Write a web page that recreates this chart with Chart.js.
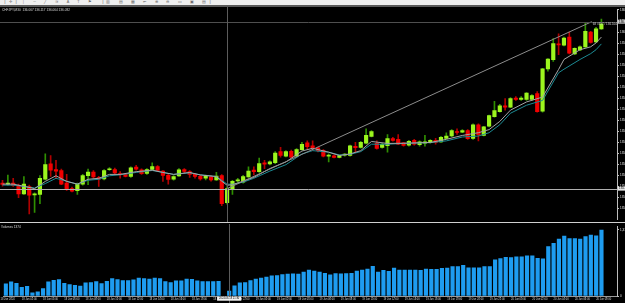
<!DOCTYPE html>
<html>
<head>
<meta charset="utf-8">
<title>CHFJPY,M30</title>
<script src="https://cdn.jsdelivr.net/npm/chart.js@4.4.1/dist/chart.umd.min.js"></script>
<style>
    html, body { margin: 0; padding: 0; background: #000; }
    body { width: 625px; height: 303px; position: relative; overflow: hidden; font-family: "Liberation Sans", sans-serif; }
    #toolbar { position: absolute; left: 0; top: 0; width: 625px; height: 5px; background: #efefef; overflow: hidden; }
    #toolbar-edge { position: absolute; left: 0; top: 5px; width: 625px; height: 2px; background: #5a5a5a; }
    #main-wrap { position: absolute; left: 0; top: 7px; width: 625px; height: 215px; }
    #separator { position: absolute; left: 0; top: 222px; width: 625px; height: 1px; background: #cfcfcf; }
    #vol-wrap { position: absolute; left: 0; top: 224px; width: 625px; height: 79px; }
    .tiny { position: absolute; white-space: nowrap; transform-origin: 0 0; font-size: 6px; line-height: 6px; }
    #icons { left: 2px; top: -0.5px; color: #6a6a6a; transform: scale(0.62); letter-spacing: 6px; }
    #title { left: 2px; top: 8px; color: #d8d8d8; transform: scale(0.52); }
    #vol-title { left: 1px; top: 225px; color: #d8d8d8; transform: scale(0.52); }
</style>
</head>
<body>
<div id="toolbar"><div class="tiny" id="icons">▕✛▏│ ─ ╱ ≋ A T ⚑ ▕▥ ▤ ▦ ⇤ ⊕ ⊖ ▭ ▣ ▤▏</div></div>
<div id="toolbar-edge"></div>
<div id="main-wrap"><canvas id="main-chart" width="625" height="215"></canvas></div>
<div id="separator"></div>
<div id="vol-wrap"><canvas id="vol-chart" width="625" height="79"></canvas></div>
<div class="tiny" id="title">CHFJPY,M30&nbsp; 136.067 136.117 136.064 136.092</div>
<div class="tiny" id="vol-title">Volumes 1374</div>

<script>
// candle data, one entry per bar (bar 0 is the leftmost)
const open = [135.275, 135.270, 135.275, 135.264, 135.220, 135.258, 135.215, 135.217, 135.295, 135.374,
    135.345, 135.340, 135.275, 135.247, 135.237, 135.270, 135.314, 135.332, 135.304, 135.297,
    135.344, 135.345, 135.322, 135.319, 135.309, 135.357, 135.344, 135.325, 135.345, 135.360,
    135.337, 135.315, 135.295, 135.312, 135.345, 135.335, 135.320, 135.310, 135.300, 135.309,
    135.292, 135.314, 135.175, 135.242, 135.287, 135.280, 135.307, 135.342, 135.334, 135.380,
    135.374, 135.380, 135.437, 135.414, 135.439, 135.414, 135.447, 135.482, 135.467, 135.457,
    135.444, 135.414, 135.415, 135.407, 135.419, 135.417, 135.464, 135.459, 135.480, 135.515,
    135.480, 135.459, 135.467, 135.504, 135.500, 135.482, 135.470, 135.495, 135.472, 135.480,
    135.484, 135.495, 135.487, 135.505, 135.517, 135.540, 135.537, 135.545, 135.505, 135.575,
    135.520, 135.567, 135.617, 135.642, 135.672, 135.665, 135.712, 135.705, 135.705, 135.705,
    135.735, 135.645, 135.862, 135.909, 135.990, 135.984, 136.025, 135.939, 135.959, 135.975,
    136.050, 136.000, 136.067];
const high = [135.290, 135.317, 135.300, 135.270, 135.309, 135.265, 135.225, 135.314, 135.425, 135.417,
    135.392, 135.347, 135.320, 135.255, 135.275, 135.320, 135.347, 135.340, 135.310, 135.345,
    135.355, 135.352, 135.334, 135.325, 135.359, 135.367, 135.349, 135.350, 135.380, 135.365,
    135.340, 135.320, 135.314, 135.350, 135.350, 135.340, 135.325, 135.317, 135.317, 135.314,
    135.330, 135.319, 135.257, 135.290, 135.300, 135.315, 135.359, 135.359, 135.404, 135.392,
    135.390, 135.437, 135.459, 135.442, 135.445, 135.452, 135.484, 135.492, 135.492, 135.460,
    135.447, 135.425, 135.420, 135.420, 135.427, 135.470, 135.484, 135.490, 135.554, 135.545,
    135.492, 135.479, 135.525, 135.510, 135.525, 135.485, 135.495, 135.500, 135.492, 135.520,
    135.499, 135.505, 135.515, 135.534, 135.550, 135.554, 135.550, 135.550, 135.580, 135.580,
    135.567, 135.625, 135.695, 135.680, 135.709, 135.715, 135.720, 135.720, 135.740, 135.730,
    135.745, 135.865, 135.915, 136.017, 136.042, 136.025, 136.050, 135.970, 135.980, 136.097,
    136.055, 136.075, 136.117];
const low = [135.260, 135.265, 135.258, 135.200, 135.217, 135.117, 135.125, 135.170, 135.292, 135.309,
    135.300, 135.267, 135.238, 135.230, 135.217, 135.265, 135.267, 135.300, 135.258, 135.292,
    135.340, 135.322, 135.300, 135.307, 135.305, 135.342, 135.320, 135.320, 135.344, 135.335,
    135.284, 135.270, 135.290, 135.309, 135.325, 135.305, 135.300, 135.290, 135.292, 135.285,
    135.289, 135.159, 135.167, 135.217, 135.280, 135.275, 135.304, 135.317, 135.330, 135.350,
    135.369, 135.375, 135.409, 135.410, 135.405, 135.410, 135.444, 135.450, 135.442, 135.435,
    135.410, 135.384, 135.404, 135.404, 135.414, 135.414, 135.434, 135.455, 135.477, 135.512,
    135.450, 135.455, 135.434, 135.490, 135.472, 135.465, 135.465, 135.470, 135.465, 135.465,
    135.480, 135.475, 135.484, 135.502, 135.514, 135.525, 135.534, 135.500, 135.500, 135.492,
    135.517, 135.564, 135.614, 135.639, 135.650, 135.662, 135.700, 135.700, 135.700, 135.700,
    135.639, 135.640, 135.850, 135.900, 135.935, 135.980, 135.939, 135.935, 135.955, 135.972,
    135.994, 135.997, 136.064];
const close = [135.268, 135.275, 135.264, 135.220, 135.270, 135.214, 135.220, 135.300, 135.370, 135.342,
    135.337, 135.270, 135.242, 135.234, 135.270, 135.314, 135.332, 135.307, 135.295, 135.339,
    135.349, 135.327, 135.319, 135.310, 135.354, 135.347, 135.324, 135.345, 135.360, 135.340,
    135.315, 135.294, 135.309, 135.344, 135.335, 135.320, 135.310, 135.297, 135.312, 135.292,
    135.312, 135.170, 135.247, 135.284, 135.292, 135.309, 135.337, 135.334, 135.375, 135.372,
    135.384, 135.430, 135.417, 135.437, 135.409, 135.447, 135.475, 135.462, 135.454, 135.442,
    135.414, 135.417, 135.407, 135.417, 135.424, 135.467, 135.457, 135.484, 135.520, 135.540,
    135.454, 135.474, 135.504, 135.495, 135.475, 135.469, 135.490, 135.475, 135.487, 135.487,
    135.495, 135.484, 135.510, 135.517, 135.545, 135.535, 135.545, 135.504, 135.575, 135.524,
    135.564, 135.622, 135.647, 135.672, 135.665, 135.709, 135.705, 135.712, 135.737, 135.725,
    135.642, 135.862, 135.912, 135.992, 135.985, 136.020, 135.942, 135.967, 135.975, 136.055,
    135.997, 136.067, 136.092];

// lower window, one value per bar (null = no bar drawn)
const volume = [254, 294, 266, 180, 200, 66, 86, 154, 294, 326,
    340, 266, 240, 220, 206, 274, 280, 300, 260, 306,
    360, 340, 320, 320, 334, 374, 360, 354, 374, 360,
    300, 280, 314, 314, 354, 346, 314, 300, 300, 300,
    306, null, 100, 214, 274, 280, 320, 354, 374, 394,
    420, 426, 446, 454, 460, 454, 500, 540, 520, 500,
    474, 440, 466, 460, 466, 474, 520, 540, 560, 620,
    500, 534, 514, 580, 540, 540, 540, 540, 534, 560,
    554, 554, 574, 580, 614, 614, 640, 586, 586, 586,
    614, 614, 754, 780, 806, 800, 814, 814, 834, 834,
    786, 774, 1026, 1094, 1186, 1246, 1194, 1194, 1186, 1234,
    1266, 1254, 1374];

// the two moving averages, read at these bars
const maBars = [0, 2, 4, 6, 8, 10, 12, 14, 16, 18, 20, 22, 25, 28, 30, 32, 35, 37, 40, 41,
    42, 43, 45, 47, 50, 53, 56, 58, 61, 63, 65, 67, 69, 72, 75, 80, 83, 86, 89, 91,
    93, 95, 98, 101, 104, 105, 108, 110, 111, 112];
const maFast = [135.270, 135.270, 135.259, 135.247, 135.284, 135.313, 135.284, 135.270, 135.295, 135.300,
    135.320, 135.320, 135.334, 135.342, 135.330, 135.320, 135.330, 135.317, 135.309, 135.285,
    135.264, 135.267, 135.285, 135.305, 135.350, 135.384, 135.440, 135.454, 135.434, 135.417,
    135.425, 135.442, 135.489, 135.479, 135.480, 135.484, 135.500, 135.520, 135.534, 135.550,
    135.592, 135.650, 135.692, 135.717, 135.859, 135.910, 135.960, 135.975, 135.995, 136.025];
const maSlow = [135.265, 135.265, 135.258, 135.250, 135.273, 135.300, 135.285, 135.270, 135.290, 135.295,
    135.313, 135.318, 135.330, 135.340, 135.330, 135.320, 135.328, 135.318, 135.309, 135.290,
    135.270, 135.269, 135.280, 135.300, 135.337, 135.370, 135.425, 135.442, 135.434, 135.420,
    135.423, 135.437, 135.475, 135.475, 135.479, 135.483, 135.492, 135.512, 135.517, 135.534,
    135.575, 135.634, 135.675, 135.700, 135.842, 135.860, 135.910, 135.940, 135.960, 135.990];

// crosshair measurement: start at the crosshair, end near the bid line
const measureBars = [42, 110.2];
const measurePrices = [135.247, 136.104];
const measureText = '68 / 857 / 136.104';
const crossBar = 42;
const crossPrice = 135.247;
const crossTime = '2024.06.18 21:30';
const bidPrice = 136.104;

// axis ticks
const priceTicks = [136.164, 136.107, 136.051, 135.994, 135.938, 135.881, 135.825, 135.768, 135.712, 135.655,
    135.599, 135.542, 135.486, 135.429, 135.373, 135.316, 135.260, 135.203, 135.147];
const volTicks = [1374, 0];
const timeTickBars = [-1, 3, 7, 11, 15, 19, 23, 27, 31, 35, 39, 43, 47, 51, 55, 59, 63, 67, 71, 75,
    79, 83, 87, 91, 95, 99, 103, 107, 111];
const timeTickLabels = ['18 Jun 2024', '18 Jun 02:00', '18 Jun 04:00', '18 Jun 06:00', '18 Jun 08:00',
    '18 Jun 10:00', '18 Jun 12:00', '18 Jun 14:00', '18 Jun 16:00', '18 Jun 18:00', '18 Jun 20:00',
    '18 Jun 22:00', '19 Jun 00:00', '19 Jun 02:00', '19 Jun 04:00', '19 Jun 06:00', '19 Jun 08:00',
    '19 Jun 10:00', '19 Jun 12:00', '19 Jun 14:00', '19 Jun 16:00', '19 Jun 18:00', '19 Jun 20:00',
    '19 Jun 22:00', '20 Jun 00:00', '20 Jun 02:00', '20 Jun 04:00', '20 Jun 06:00', '20 Jun 08:00'];

const X_MIN = -0.47;
const X_MAX = 114.92;
const AXIS_W = 8;
const SMALL_FONT = { size: 3, family: 'Liberation Sans' };
const TIME_FONT = { size: 2.6, family: 'Liberation Sans' };

const bars = open.map((_, i) => i);
const isUp = bars.map(i => close[i] >= open[i]);

function crisp(v) {
    return Math.round(v) + 0.5;
}

const mainOverlay = {
    id: 'mainOverlay',
    afterDatasetsDraw(chart) {
        const { ctx, chartArea: a, scales: { x, y } } = chart;
        ctx.save();
        ctx.lineWidth = 1;

        // bid line
        const yb = crisp(y.getPixelForValue(bidPrice));
        ctx.strokeStyle = '#4f4f4f';
        ctx.beginPath(); ctx.moveTo(a.left, yb); ctx.lineTo(a.right, yb); ctx.stroke();

        // crosshair
        const yc = crisp(y.getPixelForValue(crossPrice));
        const xc = crisp(x.getPixelForValue(crossBar));
        ctx.strokeStyle = '#b0b0b0';
        ctx.beginPath(); ctx.moveTo(a.left, yc); ctx.lineTo(a.right, yc); ctx.stroke();
        ctx.strokeStyle = '#5c5c5c';
        ctx.beginPath(); ctx.moveTo(xc, 0); ctx.lineTo(xc, chart.height); ctx.stroke();

        // measurement label
        const xe = x.getPixelForValue(measureBars[1]);
        const ye = y.getPixelForValue(measurePrices[1]);
        ctx.font = '3px "Liberation Sans"';
        ctx.fillStyle = '#d0d0d0';
        ctx.textBaseline = 'top';
        ctx.fillText(measureText, xe + 1, ye + 0.5);
        ctx.restore();
    },
    afterDraw(chart) {
        const { ctx, chartArea: a, scales: { y } } = chart;
        ctx.save();
        ctx.font = '3px "Liberation Sans"';
        ctx.textBaseline = 'middle';
        const boxes = [[bidPrice, '#c8c8c8'], [crossPrice, '#e6e6e6']];
        boxes.forEach(([p, bg]) => {
            const yy = y.getPixelForValue(p);
            ctx.fillStyle = bg;
            ctx.fillRect(a.right + 1, yy - 2, AXIS_W, 4);
            ctx.fillStyle = '#000';
            ctx.fillText(p.toFixed(3), a.right + 2, yy);
        });
        ctx.restore();
    }
};

const volOverlay = {
    id: 'volOverlay',
    afterDatasetsDraw(chart) {
        const { ctx, scales: { x } } = chart;
        const xc = crisp(x.getPixelForValue(crossBar));
        ctx.save();
        ctx.strokeStyle = '#5c5c5c';
        ctx.lineWidth = 1;
        ctx.beginPath(); ctx.moveTo(xc, 0); ctx.lineTo(xc, chart.height); ctx.stroke();
        ctx.restore();
    },
    afterDraw(chart) {
        const { ctx, chartArea: a, scales: { x } } = chart;
        const xc = x.getPixelForValue(crossBar);
        ctx.save();
        ctx.font = '2.6px "Liberation Sans"';
        const w = ctx.measureText(crossTime).width + 4;
        ctx.fillStyle = '#f2f2f2';
        ctx.fillRect(xc - w / 2, a.bottom + 0.7, w, 4);
        ctx.fillStyle = '#000';
        ctx.textBaseline = 'middle';
        ctx.textAlign = 'center';
        ctx.fillText(crossTime, xc, a.bottom + 2.7);
        ctx.restore();
    }
};

new Chart(document.getElementById('main-chart'), {
    type: 'bar',
    data: {
        datasets: [
            {
                type: 'line',
                label: 'measure',
                data: measureBars.map((b, k) => ({ x: b, y: measurePrices[k] })),
                borderColor: '#8c8c8c',
                borderWidth: 1,
                pointRadius: 0,
                order: 0
            },
            {
                type: 'line',
                label: 'MA fast',
                data: maBars.map((b, k) => ({ x: b, y: maFast[k] })),
                borderColor: '#a6a6a6',
                borderWidth: 1,
                pointRadius: 0,
                order: 1
            },
            {
                type: 'line',
                label: 'MA slow',
                data: maBars.map((b, k) => ({ x: b, y: maSlow[k] })),
                borderColor: '#1c8a93',
                borderWidth: 1,
                pointRadius: 0,
                order: 2
            },
            {
                label: 'body',
                data: bars.map(i => ({ x: i, y: [open[i], close[i]] })),
                backgroundColor: bars.map(i => isUp[i] ? '#9cf51e' : '#f20000'),
                barThickness: 3.5,
                minBarLength: 1,
                grouped: false,
                order: 3
            },
            {
                label: 'wick',
                data: bars.map(i => ({ x: i, y: [low[i], high[i]] })),
                backgroundColor: bars.map(i => isUp[i] ? '#2f8f00' : '#b00000'),
                barThickness: 1,
                grouped: false,
                order: 4
            }
        ]
    },
    options: {
        responsive: false,
        animation: false,
        layout: { padding: 0 },
        plugins: { legend: { display: false }, tooltip: { enabled: false } },
        scales: {
            x: { type: 'linear', min: X_MIN, max: X_MAX, offset: false, display: false },
            y: {
                position: 'right',
                min: 135.09,
                max: 136.165,
                afterFit(s) { s.width = AXIS_W; },
                afterBuildTicks(s) { s.ticks = priceTicks.map(v => ({ value: v })); },
                ticks: { color: '#e2e2e2', font: SMALL_FONT, padding: 1, callback: v => v.toFixed(3) },
                grid: { drawOnChartArea: false, color: '#bdbdbd', tickLength: 2 },
                border: { color: '#bdbdbd' }
            }
        }
    },
    plugins: [mainOverlay]
});

new Chart(document.getElementById('vol-chart'), {
    type: 'bar',
    data: {
        datasets: [{
            label: 'Volumes',
            data: bars.map(i => ({ x: i, y: volume[i] })),
            backgroundColor: '#1e9cf0',
            barThickness: 3.5,
            grouped: false
        }]
    },
    options: {
        responsive: false,
        animation: false,
        layout: { padding: 0 },
        plugins: { legend: { display: false }, tooltip: { enabled: false } },
        scales: {
            x: {
                type: 'linear',
                min: X_MIN,
                max: X_MAX,
                offset: false,
                afterFit(s) { s.height = 7; },
                afterBuildTicks(s) { s.ticks = timeTickBars.map(v => ({ value: v })); },
                ticks: {
                    color: '#d6d6d6', font: TIME_FONT, padding: 0.5, align: 'start',
                    maxRotation: 0, autoSkip: false,
                    callback: (v, idx) => timeTickLabels[idx]
                },
                grid: { drawOnChartArea: false, color: '#9a9a9a', tickLength: 1.5 },
                border: { color: '#9a9a9a' }
            },
            y: {
                position: 'right',
                min: 0,
                max: 1440,
                afterFit(s) { s.width = AXIS_W; },
                afterBuildTicks(s) { s.ticks = volTicks.map(v => ({ value: v })); },
                ticks: { color: '#e2e2e2', font: SMALL_FONT, padding: 1 },
                grid: { drawOnChartArea: false, color: '#bdbdbd', tickLength: 2 },
                border: { color: '#bdbdbd' }
            }
        }
    },
    plugins: [volOverlay]
});
</script>
</body>
</html>
